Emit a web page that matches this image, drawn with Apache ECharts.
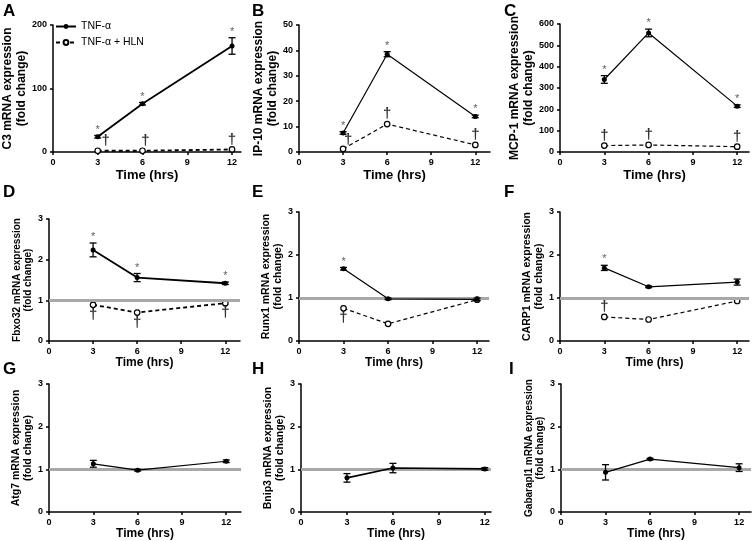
<!DOCTYPE html>
<html><head><meta charset="utf-8">
<script src="https://cdn.jsdelivr.net/npm/echarts@6/dist/echarts.min.js"></script>
<style>html,body{margin:0;padding:0;background:#fff}#c{width:753px;height:541px}</style>
</head><body><div id="c"></div>
<script>
// ---- data ----
const timePoints = [3, 6, 12];
const xTicks = [0, 3, 6, 9, 12];

const c3Tnf = [24, 76, 167],        c3TnfErr = [2, 2, 13],          c3Hln = [2, 2, 4];
const ip10Tnf = [7.5, 38.5, 14],    ip10TnfErr = [0.5, 1, 0.5],     ip10Hln = [1.2, 11, 2.8];
const mcp1Tnf = [340, 558, 215],    mcp1TnfErr = [18, 18, 6],       mcp1Hln = [30, 33, 25];
const fbxo32Tnf = [2.24, 1.56, 1.42], fbxo32TnfErr = [0.17, 0.1, 0.03], fbxo32Hln = [0.89, 0.70, 0.93];
const runx1Tnf = [1.68, 0.98, 0.97], runx1TnfErr = [0.03, 0.02, 0.03], runx1Hln = [0.76, 0.40, 0.96];
const carp1Tnf = [1.70, 1.26, 1.37], carp1TnfErr = [0.06, 0.02, 0.07], carp1Hln = [0.56, 0.50, 0.93];
const atg7Tnf = [1.13, 0.98, 1.19],  atg7TnfErr = [0.08, 0.02, 0.03];
const bnip3Tnf = [0.80, 1.03, 1.01], bnip3TnfErr = [0.1, 0.11, 0.03];
const gabarapl1Tnf = [0.93, 1.24, 1.04], gabarapl1TnfErr = [0.18, 0.02, 0.09];

// significance flags per time point
const c3Stars = [1, 1, 1],     c3Daggers = [1, 1, 1];
const ip10Stars = [1, 1, 1],   ip10Daggers = [1, 1, 1];
const mcp1Stars = [1, 1, 1],   mcp1Daggers = [1, 1, 1];
const fbxo32Stars = [1, 1, 1], fbxo32Daggers = [1, 1, 1];
const runx1Stars = [1, 0, 0],  runx1Daggers = [1, 0, 0];
const carp1Stars = [1, 0, 0],  carp1Daggers = [1, 0, 0];

const seriesNames = ['TNF-α', 'TNF-α + HLN'];
const xName = 'Time (hrs)';

// ---- layout / style config ----
const FONT = "'Liberation Sans', Arial, sans-serif";
const panels = [
  {letter:'A', yName:'C3 mRNA expression', tnf:c3Tnf, err:c3TnfErr, hln:c3Hln, stars:c3Stars, daggers:c3Daggers,
   yMax:200, yInt:100, xMax:12.6, grid:{left:49, top:25, width:192, height:127}, lw:1.8, nameGap:22, nfs:12, xfs:13, xgap:17,
   ref:false, dagPos:'top', dagOff:[[8,0],[3,0],[0,0]], lp:[3,3]},
  {letter:'B', yName:'IP-10 mRNA expression', tnf:ip10Tnf, err:ip10TnfErr, hln:ip10Hln, stars:ip10Stars, daggers:ip10Daggers,
   yMax:50, yInt:10, xMax:13, grid:{left:299, top:25, width:191, height:127}, lw:1.2, nameGap:17, nfs:12, xfs:13, xgap:17,
   ref:false, dagPos:'top', dagOff:[[5,1],[0,0],[0,0]], lp:[252,3]},
  {letter:'C', yName:'MCP-1 mRNA expression', tnf:mcp1Tnf, err:mcp1TnfErr, hln:mcp1Hln, stars:mcp1Stars, daggers:mcp1Daggers,
   yMax:600, yInt:100, xMax:12.8, grid:{left:560, top:24, width:189, height:128}, lw:1.2, nameGap:21, nfs:12, xfs:13, xgap:17,
   ref:false, dagPos:'top', dagOff:[[0,0],[0,0],[0,0]], lp:[504,3]},
  {letter:'D', yName:'Fbxo32 mRNA expression', tnf:fbxo32Tnf, err:fbxo32TnfErr, hln:fbxo32Hln, stars:fbxo32Stars, daggers:fbxo32Daggers,
   yMax:3, yInt:1, xMax:13, grid:{left:49, top:219, width:191, height:122}, lw:1.8, nameGap:11, nfs:10, xfs:12, xgap:15,
   ref:true, dagPos:'bottom', dagOff:[[0,0],[0,0],[0,0]], lp:[3,184]},
  {letter:'E', yName:'Runx1 mRNA expression', tnf:runx1Tnf, err:runx1TnfErr, hln:runx1Hln, stars:runx1Stars, daggers:runx1Daggers,
   yMax:3, yInt:1, xMax:12.8, grid:{left:299, top:212, width:190, height:129}, lw:1.2, nameGap:11, nfs:10.5, xfs:12, xgap:15,
   ref:true, dagPos:'bottom', dagOff:[[0,0],[0,0],[0,0]], lp:[252,184]},
  {letter:'F', yName:'CARP1 mRNA expression', tnf:carp1Tnf, err:carp1TnfErr, hln:carp1Hln, stars:carp1Stars, daggers:carp1Daggers,
   yMax:3, yInt:1, xMax:12.8, grid:{left:560, top:212, width:189, height:129}, lw:1.2, nameGap:11, nfs:10.5, xfs:12, xgap:15,
   ref:true, dagPos:'top', dagOff:[[0,0],[0,0],[0,0]], lp:[504,184]},
  {letter:'G', yName:'Atg7 mRNA expression', tnf:atg7Tnf, err:atg7TnfErr, hln:null,
   yMax:3, yInt:1, xMax:13, grid:{left:49, top:384, width:192, height:128}, lw:1.2, nameGap:13, nfs:10.5, xfs:12, xgap:16,
   ref:true, lp:[3,361]},
  {letter:'H', yName:'Bnip3 mRNA expression', tnf:bnip3Tnf, err:bnip3TnfErr, hln:null,
   yMax:3, yInt:1, xMax:12.4, grid:{left:301, top:384, width:190, height:128}, lw:1.6, nameGap:13, nfs:10.5, xfs:12, xgap:16,
   ref:true, lp:[252,361]},
  {letter:'I', yName:'Gabarapl1 mRNA expression', tnf:gabarapl1Tnf, err:gabarapl1TnfErr, hln:null,
   yMax:3, yInt:1, xMax:12.8, grid:{left:561, top:384, width:190, height:128}, lw:1.2, nameGap:13, nfs:10, xfs:12, xgap:16,
   ref:true, lp:[509,361]}
];

function errRender(params, api) {
  const x = api.value(0), lo = api.value(1), hi = api.value(2);
  const a = api.coord([x, lo]), b = api.coord([x, hi]);
  const w = 3.5, st = {stroke:'#000', lineWidth:1.3};
  return {type:'group', children:[
    {type:'line', shape:{x1:a[0], y1:a[1], x2:b[0], y2:b[1]}, style:st},
    {type:'line', shape:{x1:a[0]-w, y1:a[1], x2:a[0]+w, y2:a[1]}, style:st},
    {type:'line', shape:{x1:b[0]-w, y1:b[1], x2:b[0]+w, y2:b[1]}, style:st}
  ]};
}

const grids = [], xAxes = [], yAxes = [], series = [], graphics = [];
const axisLineStyle = {color:'#000', width:1.5};
const clear = 'rgba(0,0,0,0)';

panels.forEach((p, i) => {
  grids.push(Object.assign({containLabel:false}, p.grid));
  xAxes.push({
    type:'value', gridIndex:i, min:0, max:p.xMax,
    name:xName, nameLocation:'middle', nameGap:p.xgap,
    nameTextStyle:{fontFamily:FONT, fontWeight:'bold', fontSize:p.xfs, color:'#000'},
    axisLine:{onZero:false, lineStyle:axisLineStyle},
    axisTick:{show:true, length:3, lineStyle:axisLineStyle, customValues:xTicks},
    axisLabel:{margin:6, fontFamily:FONT, fontWeight:'bold', fontSize:9, color:'#000', customValues:xTicks},
    splitLine:{show:false}
  });
  yAxes.push({
    type:'value', gridIndex:i, min:0, max:p.yMax, interval:p.yInt,
    name:p.yName + '\n(fold change)', nameLocation:'middle', nameGap:p.nameGap,
    nameTextStyle:{fontFamily:FONT, fontWeight:'bold', fontSize:p.nfs, lineHeight:p.nfs + 1.5, color:'#000'},
    axisLine:{show:true, lineStyle:axisLineStyle},
    axisTick:{show:true, length:3, lineStyle:axisLineStyle},
    axisLabel:{margin:6, fontFamily:FONT, fontWeight:'bold', fontSize:9, color:'#000'},
    splitLine:{show:false}
  });

  const tnfData = timePoints.map((t, k) => [t, p.tnf[k]]);
  if (p.ref) {
    series.push({type:'line', xAxisIndex:i, yAxisIndex:i, data:tnfData, symbol:'none',
      lineStyle:{opacity:0}, silent:true, z:1,
      markLine:{silent:true, symbol:'none', label:{show:false}, animation:false,
        lineStyle:{color:'#a8a8a8', width:3, type:'solid'}, data:[{yAxis:1}]}});
  }
  series.push({type:'line', name:seriesNames[0], xAxisIndex:i, yAxisIndex:i, data:tnfData,
    symbol:'circle', symbolSize:5, itemStyle:{color:'#000'}, lineStyle:{color:'#000', width:p.lw}, z:5});
  series.push({type:'custom', xAxisIndex:i, yAxisIndex:i, renderItem:errRender, z:6,
    encode:{x:0, y:[1, 2]},
    data:timePoints.map((t, k) => [t, p.tnf[k] - p.err[k], p.tnf[k] + p.err[k]])});
  if (p.hln) {
    series.push({type:'line', name:seriesNames[1], xAxisIndex:i, yAxisIndex:i,
      data:timePoints.map((t, k) => [t, p.hln[k]]),
      symbol:'circle', symbolSize:5.5, itemStyle:{color:'#fff', borderColor:'#000', borderWidth:1.2},
      lineStyle:{color:'#000', width:p.lw, type:[4, 3]}, z:4});
  }
  if (p.stars) {
    const sd = [];
    timePoints.forEach((t, k) => { if (p.stars[k]) sd.push([t, p.tnf[k] + p.err[k]]); });
    series.push({type:'scatter', xAxisIndex:i, yAxisIndex:i, data:sd, symbolSize:1,
      itemStyle:{color:clear}, silent:true, z:7,
      label:{show:true, formatter:'*', position:'top', distance:0, fontFamily:FONT, fontSize:11, color:'#333'}});
  }
  if (p.daggers) {
    const dd = [];
    timePoints.forEach((t, k) => {
      if (p.daggers[k]) dd.push({value:[t, p.hln[k]], label:{offset:p.dagOff[k]}});
    });
    series.push({type:'scatter', xAxisIndex:i, yAxisIndex:i, data:dd, symbolSize:1,
      itemStyle:{color:clear}, silent:true, z:7,
      label:{show:true, formatter:'†', position:p.dagPos, distance:2, fontFamily:FONT, fontWeight:'bold', fontSize:15, color:'#000'}});
  }
  graphics.push({type:'text', left:p.lp[0], top:p.lp[1],
    style:{text:p.letter, font:"bold 17px 'Liberation Sans', Arial, sans-serif", fill:'#000'}});
});

const chart = echarts.init(document.getElementById('c'), null, {renderer:'canvas'});
chart.setOption({
  animation:false,
  backgroundColor:'#fff',
  grid:grids, xAxis:xAxes, yAxis:yAxes, series:series, graphic:graphics,
  legend:{data:seriesNames, orient:'vertical', left:50, top:16, itemWidth:20, itemHeight:6, itemGap:5,
    textStyle:{fontFamily:FONT, fontSize:10.5, color:'#000'}, selectedMode:false}
});
</script></body></html>
